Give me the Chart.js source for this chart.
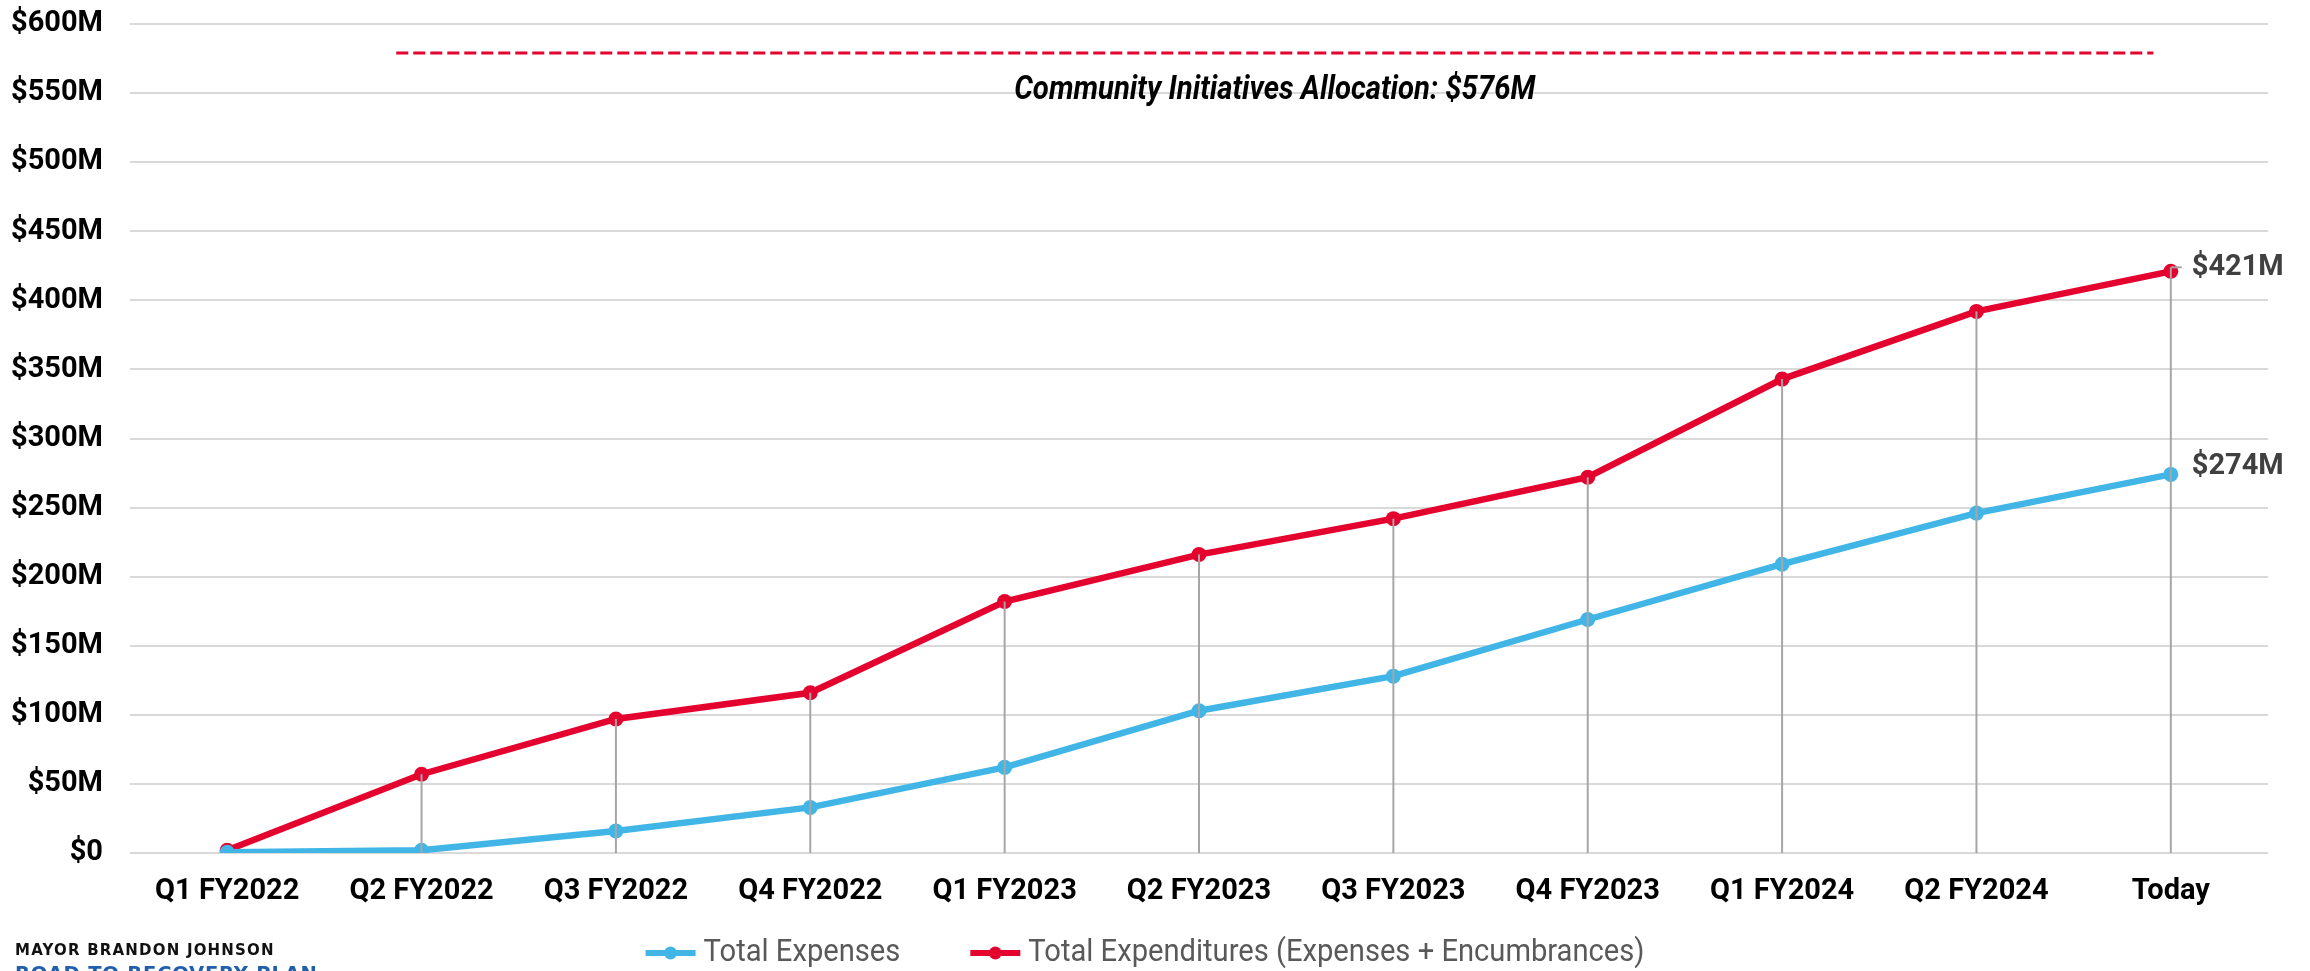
<!DOCTYPE html>
<html lang="en">
<head>
  <meta charset="UTF-8" />
  <title>Community Initiatives Spending</title>
  <script src="https://cdn.jsdelivr.net/npm/chart.js"></script>
  <style>
    html, body {
      margin: 0;
      padding: 0;
      background: #ffffff;
      overflow: hidden;
    }
    .wrap {
      position: relative;
      width: 2310px;
      height: 971px;
    }
    /* logo text, bottom left */
    .logo-top {
      position: absolute;
      left: 15px;
      top: 941px;
      font: bold 15px "DejaVu Sans", sans-serif;
      letter-spacing: 1.2px;
      color: #111;
    }
    .logo-bottom {
      position: absolute;
      left: 15px;
      top: 962px;
      font: bold 19.5px "DejaVu Sans", sans-serif;
      letter-spacing: 0.8px;
      color: #1f5fae;
    }
  </style>
</head>
<body>
  <div class="wrap">
    <canvas id="chart" width="2310" height="971"></canvas>
    <div class="logo-top">MAYOR BRANDON JOHNSON</div>
    <div class="logo-bottom">ROAD TO RECOVERY PLAN</div>
  </div>

  <script>
    // data, in $M
    const categories = ['Q1 FY2022', 'Q2 FY2022', 'Q3 FY2022', 'Q4 FY2022', 'Q1 FY2023', 'Q2 FY2023',
      'Q3 FY2023', 'Q4 FY2023', 'Q1 FY2024', 'Q2 FY2024', 'Today'];
    const totalExpenses = [0.5, 2, 16, 33, 62, 103, 128, 169, 209, 246, 274];
    const totalExpenditures = [2, 57, 97, 116, 182, 216, 242, 272, 343, 392, 421];
    const seriesNames = ['Total Expenses', 'Total Expenditures (Expenses + Encumbrances)'];

    // allocation reference line
    const allocationLabel = 'Community Initiatives Allocation: $576M';
    const allocationLevel = 579;          // where the dashed line sits
    const allocationSpan = [0.87, 9.91];  // category positions where it starts / ends

    const RED = '#e4032e';
    const BLUE = '#41b6e6';

    // draw text squeezed to a given width (the original uses a condensed face)
    function fitText(ctx, text, cx, cy, maxW) {
      const w = ctx.measureText(text).width;
      const sx = Math.min(1, maxW / w);
      ctx.save();
      ctx.translate(cx, cy);
      ctx.scale(sx, 1);
      ctx.fillText(text, 0, 0);
      ctx.restore();
      return w * sx;
    }

    // grey drop lines from the upper series, end labels, allocation line, legend
    const extras = {
      id: 'extras',
      afterDatasetsDraw(chart) {
        const { ctx, scales: { y } } = chart;
        const red = chart.getDatasetMeta(1).data;
        ctx.save();
        ctx.strokeStyle = '#a6a6a6';
        ctx.lineWidth = 2;
        red.forEach((pt, i) => {
          if (i === 0) return;
          const isLast = i === red.length - 1;
          const top = isLast ? pt.y - 4 : pt.y;
          ctx.beginPath();
          ctx.moveTo(pt.x, top);
          ctx.lineTo(pt.x, y.getPixelForValue(0));
          ctx.stroke();
          if (isLast) {
            ctx.beginPath();
            ctx.moveTo(pt.x, top);
            ctx.lineTo(pt.x + 11, top);
            ctx.stroke();
          }
        });
        ctx.restore();
      },
      afterDraw(chart) {
        const { ctx, scales: { x, y } } = chart;
        ctx.save();
        // end labels
        ctx.font = 'bold 29px Roboto';
        ctx.fillStyle = '#404040';
        ctx.textBaseline = 'middle';
        ctx.textAlign = 'left';
        const last = categories.length - 1;
        const px = x.getPixelForValue(last) + 21;
        ctx.fillText('$' + totalExpenditures[last] + 'M', px, y.getPixelForValue(totalExpenditures[last]) - 4);
        ctx.fillText('$' + totalExpenses[last] + 'M', px, y.getPixelForValue(totalExpenses[last]) - 8);

        // allocation line
        const x0 = x.getPixelForValue(allocationSpan[0]);
        const x1 = x.getPixelForValue(allocationSpan[1]);
        const ly = y.getPixelForValue(allocationLevel);
        ctx.strokeStyle = RED;
        ctx.lineWidth = 3;
        ctx.setLineDash([12, 5]);
        ctx.beginPath();
        ctx.moveTo(x0, ly);
        ctx.lineTo(x1, ly);
        ctx.stroke();
        ctx.setLineDash([]);

        ctx.font = 'italic bold 33px Roboto';
        ctx.fillStyle = '#000';
        ctx.textAlign = 'center';
        ctx.textBaseline = 'alphabetic';
        fitText(ctx, allocationLabel, (x0 + x1) / 2, ly + 46, 521);
        ctx.restore();

        // legend
        ctx.save();
        ctx.font = '31px Roboto';
        ctx.textBaseline = 'middle';
        ctx.textAlign = 'left';
        const squeeze = 0.94;
        const items = chart.data.datasets.map(ds => ({ ds, tw: ctx.measureText(ds.label).width * squeeze }));
        const gap = 70;
        const total = items.reduce((s, it) => s + 50 + 8 + it.tw, 0) + gap * (items.length - 1);
        let lx = 1145 - total / 2;
        const legY = 953;
        items.forEach(({ ds, tw }) => {
          ctx.strokeStyle = ds.borderColor;
          ctx.fillStyle = ds.borderColor;
          ctx.lineWidth = 6;
          ctx.beginPath();
          ctx.moveTo(lx, legY);
          ctx.lineTo(lx + 50, legY);
          ctx.stroke();
          ctx.beginPath();
          ctx.arc(lx + 25, legY, 6.5, 0, Math.PI * 2);
          ctx.fill();
          ctx.fillStyle = '#595959';
          ctx.save();
          ctx.translate(lx + 58, legY);
          ctx.scale(squeeze, 1);
          ctx.fillText(ds.label, 0, 0);
          ctx.restore();
          lx += 58 + tw + gap;
        });
        ctx.restore();
      }
    };

    new Chart(document.getElementById('chart'), {
      type: 'line',
      data: {
        labels: categories,
        datasets: [
          {
            label: seriesNames[0],
            data: totalExpenses,
            borderColor: BLUE,
            backgroundColor: BLUE,
            borderWidth: 6.5,
            pointRadius: 7.5,
            pointBorderWidth: 0,
          },
          {
            label: seriesNames[1],
            data: totalExpenditures,
            borderColor: RED,
            backgroundColor: RED,
            borderWidth: 6.5,
            pointRadius: 7.5,
            pointBorderWidth: 0,
          },
        ],
      },
      options: {
        responsive: false,
        animation: false,
        events: [],
        layout: { padding: { top: 24, right: 42, bottom: 38, left: 0 } },
        plugins: {
          legend: { display: false },
          tooltip: { enabled: false },
        },
        scales: {
          x: {
            offset: true,
            grid: { display: false, drawTicks: false },
            border: { display: false },
            ticks: {
              color: '#000',
              font: { family: 'Roboto', weight: 'bold', size: 29 },
              padding: 21,
              maxRotation: 0,
              autoSkip: false,
            },
            afterFit(scale) { scale.height = 80; },
          },
          y: {
            min: 0,
            max: 600,
            grid: { color: '#d9d9d9', lineWidth: 2, drawTicks: false },
            border: { display: false },
            ticks: {
              stepSize: 50,
              color: '#000',
              font: { family: 'Roboto', weight: 'bold', size: 29 },
              padding: 27,
              callback: v => (v === 0 ? '$0' : '$' + v + 'M'),
            },
            afterFit(scale) {
              scale.width = 130;
              // tick padding should only push labels sideways, not shrink the plot vertically
              scale.paddingTop = 0;
              scale.paddingBottom = 0;
            },
          },
        },
      },
      plugins: [extras],
    });
  </script>
</body>
</html>
